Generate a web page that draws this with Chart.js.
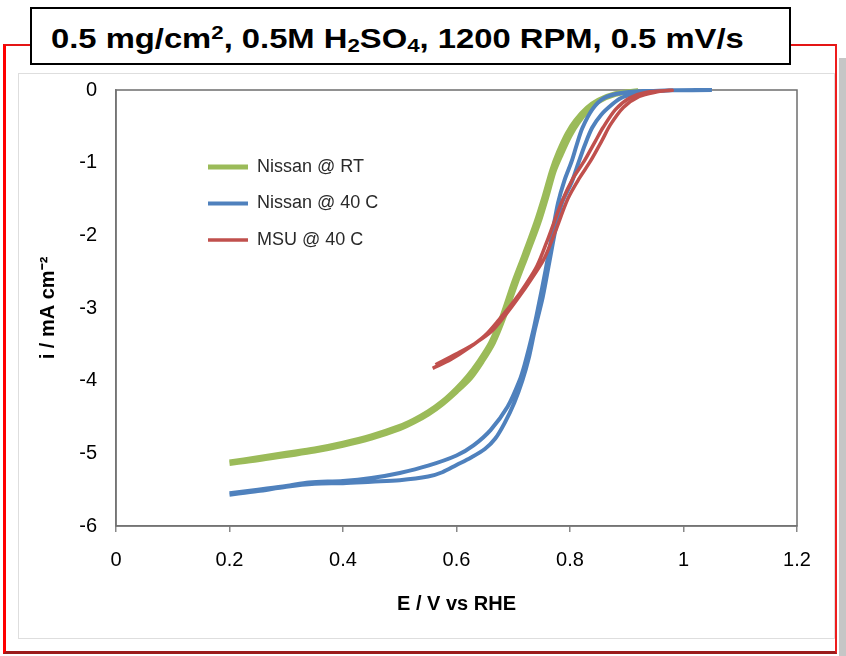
<!DOCTYPE html>
<html>
<head>
<meta charset="utf-8">
<script src="https://cdn.jsdelivr.net/npm/chart.js@4.4.1/dist/chart.umd.min.js"></script>
<style>
  html, body { margin: 0; padding: 0; background: #fff; }
  #page { position: relative; width: 846px; height: 656px; overflow: hidden; }
  #redFrame { position: absolute; left: 3px; top: 44px; width: 829px; height: 605px;
    border-left: 3px solid #f00; border-top: 2px solid #e41515; border-right: 2px solid #ee1c1c; border-bottom: 3px solid #9b1c1c; }
  #shadow { position: absolute; left: 839px; top: 58px; width: 7px; height: 598px; background: #c6c6c6; }
  #inner { position: absolute; left: 18px; top: 73px; width: 815px; height: 564px; border: 1px solid #dedede; }
  #chart { position: absolute; left: 0; top: 0; z-index: 1; }
  #title { position: absolute; left: 30px; top: 7px; width: 757px; height: 54px; border: 2px solid #000;
    background: #fff; z-index: 2; }
  #title span { position: absolute; left: 19px; top: 14px; white-space: nowrap; line-height: 28px;
    font: bold 28px "Liberation Sans", Arial, sans-serif; color: #000; transform: scaleX(1.17); transform-origin: left center; }
  #title sup { font-size: 0.68em; vertical-align: baseline; position: relative; top: -0.48em; }
  #title sub { font-size: 0.68em; vertical-align: baseline; position: relative; top: 0.22em; }
</style>
</head>
<body>
<div id="page">
  <div id="redFrame"></div>
  <div id="shadow"></div>
  <div id="inner"></div>
  <canvas id="chart" width="846" height="656"></canvas>
  <div id="title"><span>0.5 mg/cm<sup>2</sup>, 0.5M H<sub>2</sub>SO<sub>4</sub>, 1200 RPM, 0.5 mV/s</span></div>
</div>
<script>
// axis ticks
const xTickLabels = ['0', '0.2', '0.4', '0.6', '0.8', '1', '1.2'];
const yTickLabels = ['-6', '-5', '-4', '-3', '-2', '-1', '0'];

const seriesNames = ['Nissan @ RT', 'Nissan @ 40 C', 'MSU @ 40 C'];

// Nissan @ RT - scan up then back down (E in V, i in mA/cm2)
const nissanRtE = [0.20, 0.25, 0.30, 0.35, 0.40, 0.45, 0.50, 0.525, 0.55, 0.575, 0.60, 0.62, 0.64, 0.66, 0.68, 0.70, 0.72, 0.74, 0.755, 0.768, 0.78, 0.795, 0.81, 0.83, 0.85, 0.88, 0.92,
                   0.92, 0.88, 0.85, 0.832, 0.814, 0.80, 0.785, 0.772, 0.76, 0.745, 0.725, 0.705, 0.685, 0.665, 0.645, 0.625, 0.60, 0.575, 0.55, 0.525, 0.50, 0.45, 0.40, 0.35, 0.30, 0.25, 0.20];
const nissanRtI = [-5.12, -5.06, -5.00, -4.94, -4.86, -4.76, -4.63, -4.54, -4.43, -4.29, -4.11, -3.94, -3.73, -3.48, -3.12, -2.66, -2.25, -1.82, -1.45, -1.10, -0.85, -0.60, -0.42, -0.25, -0.14, -0.05, -0.01,
                   -0.01, -0.06, -0.16, -0.28, -0.45, -0.63, -0.88, -1.12, -1.45, -1.83, -2.25, -2.66, -3.10, -3.48, -3.74, -3.96, -4.15, -4.32, -4.46, -4.57, -4.66, -4.79, -4.89, -4.97, -5.03, -5.09, -5.14];

// Nissan @ 40 C
const nissan40E = [0.20, 0.25, 0.30, 0.34, 0.40, 0.45, 0.50, 0.55, 0.60, 0.63, 0.66, 0.69, 0.71, 0.72, 0.735, 0.745, 0.757, 0.77, 0.779, 0.79, 0.803, 0.812, 0.822, 0.84, 0.86, 0.89, 0.93, 0.98, 1.05,
                   1.05, 0.98, 0.94, 0.91, 0.89, 0.874, 0.855, 0.839, 0.826, 0.815, 0.803, 0.786, 0.775, 0.764, 0.752, 0.738, 0.727, 0.716, 0.702, 0.685, 0.668, 0.65, 0.625, 0.60, 0.575, 0.55, 0.50, 0.45, 0.40, 0.35, 0.30, 0.25, 0.20];
const nissan40I = [-5.55, -5.50, -5.45, -5.40, -5.38, -5.34, -5.27, -5.17, -5.03, -4.89, -4.68, -4.36, -4.02, -3.78, -3.32, -2.95, -2.48, -1.92, -1.55, -1.25, -0.98, -0.75, -0.52, -0.26, -0.11, -0.04, -0.015, -0.005, 0.0,
                   0.0, -0.005, -0.02, -0.06, -0.11, -0.20, -0.34, -0.52, -0.76, -1.00, -1.27, -1.55, -1.90, -2.35, -2.85, -3.30, -3.70, -4.00, -4.30, -4.58, -4.80, -4.94, -5.06, -5.16, -5.26, -5.32, -5.37, -5.39, -5.41, -5.42, -5.46, -5.52, -5.57];

// MSU @ 40 C
const msu40E = [0.558, 0.59, 0.62, 0.65, 0.675, 0.70, 0.72, 0.742, 0.762, 0.785, 0.805, 0.825, 0.845, 0.858, 0.88, 0.905, 0.935, 0.98,
                0.975, 0.95, 0.922, 0.894, 0.871, 0.856, 0.836, 0.816, 0.796, 0.774, 0.754, 0.732, 0.71, 0.686, 0.662, 0.632, 0.60, 0.563];
const msu40I = [-3.83, -3.71, -3.56, -3.38, -3.16, -2.92, -2.70, -2.42, -2.03, -1.55, -1.22, -0.98, -0.70, -0.52, -0.27, -0.11, -0.03, -0.005,
                -0.005, -0.03, -0.09, -0.24, -0.48, -0.70, -0.98, -1.22, -1.50, -1.95, -2.33, -2.60, -2.85, -3.10, -3.32, -3.49, -3.63, -3.78];

const seriesColors = ['#9bbb59', '#4f81bd', '#c0504d'];
const seriesWidths = [5, 4, 3.5];

function pts(xs, ys) {
    return xs.map((x, i) => ({ x: x, y: ys[i] }));
}

// plot box + move the legend into the plot area
const plotFrame = {
    id: 'plotFrame',
    afterLayout(chart) {
        const lg = chart.legend;
        if (!lg) return;
        lg.left = 189.5;
        lg.top = 139.5;
        lg.right = chart.chartArea.right;
        lg.bottom = chart.chartArea.bottom;
    },
    beforeDatasetsDraw(chart) {
        const { ctx, chartArea: a } = chart;
        ctx.save();
        ctx.strokeStyle = '#6e6e6e';
        ctx.lineWidth = 1.5;
        ctx.strokeRect(a.left, a.top, a.right - a.left, a.bottom - a.top);
        ctx.restore();
    }
};

const FONT = '"Liberation Sans", Arial, sans-serif';
Chart.defaults.font.family = FONT;
Chart.defaults.color = '#000';

const makeSet = (i, xs, ys, order) => ({
    label: seriesNames[i],
    data: pts(xs, ys),
    showLine: true,
    borderColor: seriesColors[i],
    backgroundColor: seriesColors[i],
    borderWidth: seriesWidths[i],
    pointRadius: 0,
    tension: 0.3,
    clip: false,
    order: order
});

new Chart(document.getElementById('chart'), {
    type: 'scatter',
    data: {
        datasets: [
            makeSet(0, nissanRtE, nissanRtI, 3),
            makeSet(1, nissan40E, nissan40I, 2),
            makeSet(2, msu40E, msu40I, 1)
        ]
    },
    options: {
        responsive: false,
        animation: false,
        devicePixelRatio: 1,
        layout: { padding: { left: 18, right: 49, top: 90, bottom: 36 } },
        plugins: {
            tooltip: { enabled: false },
            legend: {
                position: 'chartArea',
                align: 'start',
                labels: {
                    usePointStyle: true,
                    pointStyle: 'line',
                    pointStyleWidth: 40,
                    padding: 18.5,
                    color: '#2a2a2a',
                    font: { size: 18, family: FONT },
                    sort: (a, b) => a.datasetIndex - b.datasetIndex
                }
            }
        },
        scales: {
            x: {
                type: 'linear',
                min: 0,
                max: 1.2,
                afterFit: s => { s.height = 94; },
                ticks: {
                    stepSize: 0.2,
                    padding: 16,
                    font: { size: 20 },
                    color: '#000',
                    maxRotation: 0,
                    callback: (v, i) => xTickLabels[i]
                },
                grid: { drawOnChartArea: false, drawTicks: true, tickLength: 6, color: '#888', lineWidth: 1.5 },
                border: { color: '#888', width: 1.5 },
                title: { display: true, text: 'E / V vs RHE', font: { size: 20, weight: 'bold' }, color: '#000', padding: { top: 4, bottom: 4 } }
            },
            y: {
                type: 'linear',
                min: -6,
                max: 0,
                afterFit: s => { s.width = 98; },
                ticks: {
                    stepSize: 1,
                    padding: 19,
                    font: { size: 20 },
                    color: '#000',
                    callback: (v, i) => yTickLabels[i]
                },
                grid: { display: false, drawTicks: false },
                border: { color: '#888', width: 1.5 },
                title: { display: true, text: 'i / mA cm⁻²', font: { size: 20, weight: 'bold' }, color: '#000', padding: { top: 18, bottom: 4 } }
            }
        }
    },
    plugins: [plotFrame]
});
</script>
</body>
</html>
